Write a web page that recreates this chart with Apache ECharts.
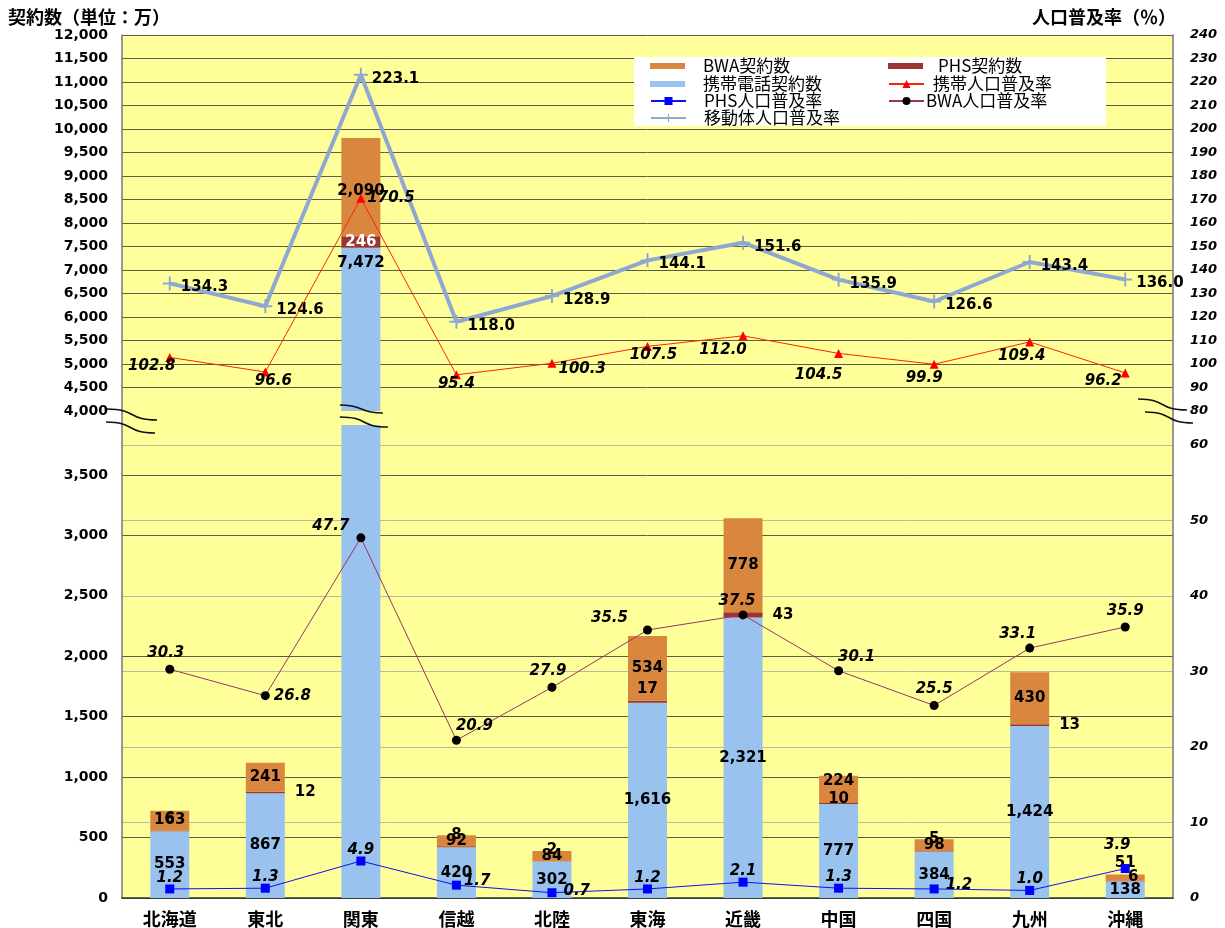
<!DOCTYPE html>
<html>
<head>
<meta charset="utf-8">
<script src="https://cdn.jsdelivr.net/npm/echarts@6/dist/echarts.min.js"></script>
<style>html,body{margin:0;padding:0;background:#fff}#c{width:1225px;height:928px}</style>
</head>
<body>
<div id="c"></div>
<script>
// ---------------- data ----------------
const categories = ['北海道','東北','関東','信越','北陸','東海','近畿','中国','四国','九州','沖縄'];
const mobileSubs = [553, 867, 7472, 420, 302, 1616, 2321, 777, 384, 1424, 138];   // 携帯電話契約数
const phsSubs    = [6, 12, 246, 8, 2, 17, 43, 10, 5, 13, 6];                        // PHS契約数
const bwaSubs    = [163, 241, 2090, 92, 84, 534, 778, 224, 98, 430, 51];           // BWA契約数
const mobileAllRate = [134.3, 124.6, 223.1, 118.0, 128.9, 144.1, 151.6, 135.9, 126.6, 143.4, 136.0]; // 移動体人口普及率
const cellRate   = [102.8, 96.6, 170.5, 95.4, 100.3, 107.5, 112.0, 104.5, 99.9, 109.4, 96.2];      // 携帯人口普及率
const bwaRate    = [30.3, 26.8, 47.7, 20.9, 27.9, 35.5, 37.5, 30.1, 25.5, 33.1, 35.9];             // BWA人口普及率
const phsRate    = [1.2, 1.3, 4.9, 1.7, 0.7, 1.2, 2.1, 1.3, 1.2, 1.0, 3.9];                        // PHS人口普及率

// axis ranges (broken axis)
const upperMin = 4000, upperMax = 12000, upperStep = 500;
const upperRateMin = 80, upperRateMax = 240, rateStep = 10;
const lowerTopTick = 3500, lowerRateTopTick = 60;

// ---------------- layout / style ----------------
const L = 122, R = 1173, UT = 35, UB = 411, LT = 425, LB = 898;
const lowerMax = lowerTopTick * (LB - LT) / (LB - 475);
const lowerRateMax = lowerRateTopTick * (LB - LT) / (LB - 445);

const NUM = 'DejaVu Sans';
const CJK = 'Noto Sans CJK JP';
const C_MOBILE = '#99c2ef', C_BWA = '#d9873f', C_PHS = '#9b3434';
const C_ALL = '#8ea8d2', C_CELL = '#ff2400', C_BWAR = '#993366', C_PHSR = '#1010ee';

const phsLabelCfg = [
  ['top',[0,0]],['right',[0,0]],['inside',[0,0]],['top',[0,0]],['top',[0,0]],['top',[0,0]],
  ['right',[0,0]],['top',[0,8]],['top',[0,0]],['right',[0,0]],['inside',[8,-4]]
];
const bwaLabelCfg = [
  ['inside',[0,0]],['inside',[0,0]],['inside',[0,0]],['inside',[0,0]],['inside',[0,0]],['inside',[0,0]],
  ['inside',[0,0]],['insideTop',[0,-6]],['inside',[0,0]],['inside',[0,0]],['top',[0,0]]
];
const cellLabelCfg = [
  ['bottom',[-18,-5]],['bottom',[8,-5]],['right',[0,0]],['bottom',[0,-5]],['right',[0,6]],
  ['bottom',[6,-5]],['bottom',[-20,0]],['bottom',[-20,8]],['bottom',[-10,0]],['bottom',[-8,0]],['bottom',[-22,-6]]
];
const bwaRateLabelCfg = [
  ['top',[-4,0]],['right',[0,0]],['top',[-30,4]],['top',[18,2]],['top',[-4,0]],['top',[-38,4]],
  ['top',[-6,2]],['top',[18,2]],['top',[0,0]],['top',[-12,2]],['top',[0,0]]
];
const phsRateLabelCfg = [
  ['top',[0,4]],['top',[0,4]],['top',[0,4]],['right',[0,-4]],['right',[4,-2]],['top',[0,4]],
  ['top',[0,4]],['top',[0,4]],['right',[4,-4]],['top',[0,4]],['top',[-8,-8]]
];

const fmt = v => Number(v).toLocaleString('en-US');
const totals = categories.map((_, i) => mobileSubs[i] + phsSubs[i] + bwaSubs[i]);
const inUpper = i => totals[i] > upperMin;
const upperOf = arr => arr.map((v, i) => inUpper(i) ? v : '-');

const barLbl = {show: true, fontFamily: NUM, fontWeight: 'bold', fontSize: 15, color: '#000'};
const lowerFmt = p => inUpper(p.dataIndex) ? '' : fmt(p.value);
const italicLbl = {show: true, fontFamily: NUM, fontWeight: 'bold', fontStyle: 'italic', fontSize: 15, color: '#000'};

const chart = echarts.init(document.getElementById('c'));

const legendRows = [
  {name: 'BWA契約数', x: 650, y: 66, bar: true, gap: 18},
  {name: 'PHS契約数', x: 888, y: 66, bar: true, gap: 15},
  {name: '携帯電話契約数', x: 650, y: 84, bar: true, gap: 18},
  {name: '携帯人口普及率', x: 888, y: 84, gap: 9},
  {name: 'PHS人口普及率', x: 650, y: 101, gap: 18},
  {name: 'BWA人口普及率', x: 888, y: 101, gap: 2},
  {name: '移動体人口普及率', x: 650, y: 118, gap: 18}
];

const bw = 39;
const catW = (R - L) / categories.length;
const kantoX = L + catW * (categories.indexOf('関東') + 0.5);

function sCurve(x1, y1, x2, y2) {
  return {type: 'bezierCurve', z: 100,
    shape: {x1, y1, x2, y2, cpx1: x1 + 0.6 * (x2 - x1), cpy1: y1, cpx2: x1 + 0.4 * (x2 - x1), cpy2: y2},
    style: {stroke: '#111', lineWidth: 1.6, fill: null}};
}

const option = {
  backgroundColor: '#fff',
  animation: false,
  title: [
    {text: '契約数（単位：万）', left: 3, top: 3, textStyle: {fontFamily: CJK, fontWeight: 'bold', fontSize: 18, color: '#000'}},
    {text: '人口普及率（％）', right: 44, top: 3, textStyle: {fontFamily: CJK, fontWeight: 'bold', fontSize: 18, color: '#000'}}
  ],
  legend: legendRows.map(r => ({
    data: [r.bar ? {name: r.name, icon: 'rect'} : {name: r.name}],
    left: r.x, top: r.y - 9, padding: 0, z: 6,
    itemWidth: 35, itemHeight: r.bar ? 6 : 10,
    selectedMode: false,
    textStyle: {fontFamily: CJK, fontSize: 17, color: '#000', lineHeight: 18, padding: [0, 0, 0, r.gap - 5]}
  })),
  grid: [
    {left: L, right: 1225 - R, top: UT, height: UB - UT, show: true, backgroundColor: '#ffff99', borderWidth: 0, outerBoundsMode: 'none'},
    {left: L, right: 1225 - R, top: LT, height: LB - LT, show: true, backgroundColor: '#ffff99', borderWidth: 0, outerBoundsMode: 'none'}
  ],
  xAxis: [
    {gridIndex: 0, type: 'category', data: categories, axisLine: {show: false}, axisTick: {show: false}, axisLabel: {show: false}},
    {gridIndex: 1, type: 'category', data: categories,
      axisLine: {lineStyle: {color: '#333', width: 1.5}},
      axisTick: {inside: true, length: 6, lineStyle: {color: '#333'}},
      axisLabel: {fontFamily: CJK, fontWeight: 'bold', fontSize: 18, color: '#000', margin: 12}}
  ],
  yAxis: [
    {gridIndex: 0, type: 'value', position: 'left', min: upperMin, max: upperMax, interval: upperStep,
      axisLine: {show: true, lineStyle: {color: '#777', width: 1.5}}, axisTick: {show: false},
      axisLabel: {formatter: fmt, fontFamily: NUM, fontWeight: 'bold', fontSize: 14, color: '#000', margin: 14},
      splitLine: {show: true, showMinLine: false, lineStyle: {color: '#5c5c48', width: 1}}},
    {gridIndex: 0, type: 'value', position: 'right', min: upperRateMin, max: upperRateMax, interval: rateStep,
      axisLine: {show: true, lineStyle: {color: '#777', width: 1.5}}, axisTick: {show: false},
      axisLabel: {fontFamily: NUM, fontWeight: 'bold', fontStyle: 'italic', fontSize: 13, color: '#000', margin: 17},
      splitLine: {show: false}},
    {gridIndex: 1, type: 'value', position: 'left', min: 0, max: lowerMax, interval: upperStep,
      axisLine: {show: true, lineStyle: {color: '#777', width: 1.5}}, axisTick: {show: false},
      axisLabel: {formatter: fmt, showMaxLabel: false, fontFamily: NUM, fontWeight: 'bold', fontSize: 14, color: '#000', margin: 14},
      splitLine: {show: true, showMaxLine: false, lineStyle: {color: '#5c5c48', width: 1}}},
    {gridIndex: 1, type: 'value', position: 'right', min: 0, max: lowerRateMax, interval: rateStep,
      axisLine: {show: true, lineStyle: {color: '#777', width: 1.5}}, axisTick: {show: false},
      axisLabel: {showMaxLabel: false, fontFamily: NUM, fontWeight: 'bold', fontStyle: 'italic', fontSize: 13, color: '#000', margin: 17},
      splitLine: {show: true, showMaxLine: false, showMinLine: false, lineStyle: {color: '#b8b8a4', width: 1}}}
  ],
  series: [
    // lower stacked bars
    {name: '携帯電話契約数', type: 'bar', xAxisIndex: 1, yAxisIndex: 2, stack: 'lo', barWidth: bw,
      itemStyle: {color: C_MOBILE}, data: mobileSubs,
      label: Object.assign({}, barLbl, {position: 'inside', formatter: lowerFmt})},
    {name: 'PHS契約数', type: 'bar', xAxisIndex: 1, yAxisIndex: 2, stack: 'lo', barWidth: bw,
      itemStyle: {color: C_PHS},
      data: phsSubs.map((v, i) => ({value: v, label: {position: phsLabelCfg[i][0], offset: phsLabelCfg[i][1],
        distance: phsLabelCfg[i][0] === 'right' ? 10 : 4}})),
      label: Object.assign({}, barLbl, {formatter: lowerFmt})},
    {name: 'BWA契約数', type: 'bar', xAxisIndex: 1, yAxisIndex: 2, stack: 'lo', barWidth: bw,
      itemStyle: {color: C_BWA},
      data: bwaSubs.map((v, i) => ({value: v, label: {position: bwaLabelCfg[i][0], offset: bwaLabelCfg[i][1], distance: 4}})),
      label: Object.assign({}, barLbl, {formatter: lowerFmt})},
    // upper stacked bars (only the part above the axis break)
    {name: '携帯電話契約数', type: 'bar', xAxisIndex: 0, yAxisIndex: 0, stack: 'up', barWidth: bw,
      itemStyle: {color: C_MOBILE}, data: upperOf(mobileSubs),
      label: Object.assign({}, barLbl, {position: 'insideTop', distance: 8, formatter: p => fmt(p.value)})},
    {name: 'PHS契約数', type: 'bar', xAxisIndex: 0, yAxisIndex: 0, stack: 'up', barWidth: bw,
      itemStyle: {color: C_PHS}, data: upperOf(phsSubs),
      label: Object.assign({}, barLbl, {position: 'inside', color: '#fff', formatter: p => fmt(p.value)})},
    {name: 'BWA契約数', type: 'bar', xAxisIndex: 0, yAxisIndex: 0, stack: 'up', barWidth: bw,
      itemStyle: {color: C_BWA}, data: upperOf(bwaSubs),
      label: Object.assign({}, barLbl, {position: 'inside', offset: [0, 4], formatter: p => fmt(p.value)})},
    // lines
    {name: '移動体人口普及率', type: 'line', xAxisIndex: 0, yAxisIndex: 1, z: 5,
      data: mobileAllRate, lineStyle: {color: C_ALL, width: 4}, itemStyle: {color: C_ALL},
      symbol: 'path://M4.3,0h1.4v10h-1.4zM0,4.3h10v1.4h-10z', symbolSize: 14,
      label: Object.assign({}, italicLbl, {fontStyle: 'normal', position: 'right', distance: 4, offset: [0, 4], formatter: p => p.value.toFixed(1)})},
    {name: '携帯人口普及率', type: 'line', xAxisIndex: 0, yAxisIndex: 1, z: 6,
      data: cellRate.map((v, i) => ({value: v, label: {position: cellLabelCfg[i][0], offset: cellLabelCfg[i][1]}})),
      lineStyle: {color: C_CELL, width: 1}, itemStyle: {color: '#ff0000'}, symbol: 'triangle', symbolSize: 9,
      label: Object.assign({}, italicLbl, {distance: 2, formatter: p => p.value.toFixed(1)})},
    {name: 'PHS人口普及率', type: 'line', xAxisIndex: 1, yAxisIndex: 3, z: 6,
      data: phsRate.map((v, i) => ({value: v, label: {position: phsRateLabelCfg[i][0], offset: phsRateLabelCfg[i][1]}})),
      lineStyle: {color: C_PHSR, width: 1}, itemStyle: {color: '#0000ff'}, symbol: 'rect', symbolSize: 9,
      label: Object.assign({}, italicLbl, {distance: 3, formatter: p => p.value.toFixed(1)})},
    {name: 'BWA人口普及率', type: 'line', xAxisIndex: 1, yAxisIndex: 3, z: 6,
      data: bwaRate.map((v, i) => ({value: v, label: {position: bwaRateLabelCfg[i][0], offset: bwaRateLabelCfg[i][1]}})),
      lineStyle: {color: C_BWAR, width: 1}, itemStyle: {color: '#000'}, symbol: 'circle', symbolSize: 9,
      label: Object.assign({}, italicLbl, {distance: 4, formatter: p => p.value.toFixed(1)})}
  ],
  graphic: [
    // yellow gap between the two halves of the broken axis
    {type: 'rect', z: 0, shape: {x: L, y: UB, width: R - L, height: LT - UB}, style: {fill: '#ffff99'}},
    {type: 'line', z: 1, shape: {x1: L, y1: UB, x2: L, y2: LT}, style: {stroke: '#777', lineWidth: 1.5}},
    {type: 'line', z: 1, shape: {x1: R, y1: UB, x2: R, y2: LT}, style: {stroke: '#777', lineWidth: 1.5}},
    // legend box
    {type: 'rect', z: 5, shape: {x: 634, y: 57, width: 472, height: 69}, style: {fill: '#fff'}},
    // break marks
    sCurve(107, 409, 157, 420), sCurve(106, 422, 155, 433),
    sCurve(kantoX - 21, 405, kantoX + 22, 413), sCurve(kantoX - 21, 417, kantoX + 27, 427),
    sCurve(1138, 399, 1187, 410), sCurve(1145, 412, 1193, 423)
  ]
};
chart.setOption(option);
</script>
</body>
</html>
